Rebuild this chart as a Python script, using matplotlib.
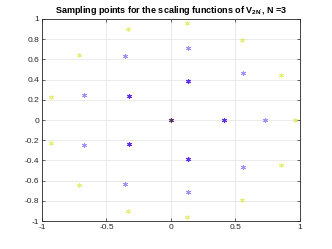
import matplotlib.pyplot as plt

# sampling points (grouped by ring)
center_x = [0.0]
center_y = [0.0]

inner_x = [0.41, 0.132, -0.323, -0.323, 0.132]
inner_y = [0.0, 0.39, 0.24, -0.24, -0.39]

middle_x = [0.73, 0.56, 0.132, -0.357, -0.674, -0.674, -0.357, 0.132, 0.56]
middle_y = [0.0, 0.47, 0.715, 0.63, 0.25, -0.248, -0.63, -0.716, -0.468]

outer_x = [0.96, 0.853, 0.55, 0.121, -0.336, -0.713, -0.928,
           -0.928, -0.713, -0.336, 0.121, 0.55, 0.853]
outer_y = [0.0, 0.45, 0.79, 0.96, 0.90, 0.64, 0.23,
           -0.231, -0.64, -0.904, -0.96, -0.795, -0.449]

x_ticks = [-1, -0.5, 0, 0.5, 1]
x_labels = ['-1', '-0.5', '0', '0.5', '1']
y_ticks = [-1, -0.8, -0.6, -0.4, -0.2, 0, 0.2, 0.4, 0.6, 0.8, 1]
y_labels = ['-1', '-0.8', '-0.6', '-0.4', '-0.2', '0', '0.2', '0.4', '0.6', '0.8', '1']

plt.rcParams['font.family'] = ['Liberation Sans', 'DejaVu Sans']
plt.rcParams['mathtext.fontset'] = 'custom'
plt.rcParams['mathtext.bf'] = 'Liberation Sans:bold'
plt.rcParams['mathtext.rm'] = 'Liberation Sans'
plt.rcParams['mathtext.default'] = 'bf'

fig = plt.figure(figsize=(3.32, 2.49), dpi=100)
ax = fig.add_axes([0.1265, 0.1124, 0.7771, 0.8113])

star = (6, 2, 0)
ax.plot(outer_x, outer_y, ls='none', marker=star, ms=3.5, mew=0.7, color='#dfe94a', alpha=0.7)
ax.plot(middle_x, middle_y, ls='none', marker=star, ms=3.5, mew=0.7, color='#8c78f4', alpha=0.8)
ax.plot(inner_x, inner_y, ls='none', marker=star, ms=3.5, mew=0.8, color='#6030ec')
ax.plot(center_x, center_y, ls='none', marker=star, ms=3.5, mew=0.8, color='#5a3a66')

ax.set_xlim(-1, 1)
ax.set_ylim(-1, 1)
ax.set_xticks(x_ticks)
ax.set_xticklabels(x_labels)
ax.set_yticks(y_ticks)
ax.set_yticklabels(y_labels)
ax.grid(True, color='#e6e6e6', lw=0.6)
ax.set_axisbelow(True)
ax.tick_params(direction='in', length=2, width=0.5, labelsize=6, colors='#262626', pad=2,
               top=True, right=True)
for s in ax.spines.values():
    s.set_color('#262626')
    s.set_linewidth(0.6)

ax.set_title("Sampling points for the scaling functions of V$_{2N'}$, N =3",
             fontsize=6.5, fontweight='bold', pad=4)

fig.savefig('out.png', dpi=100)
